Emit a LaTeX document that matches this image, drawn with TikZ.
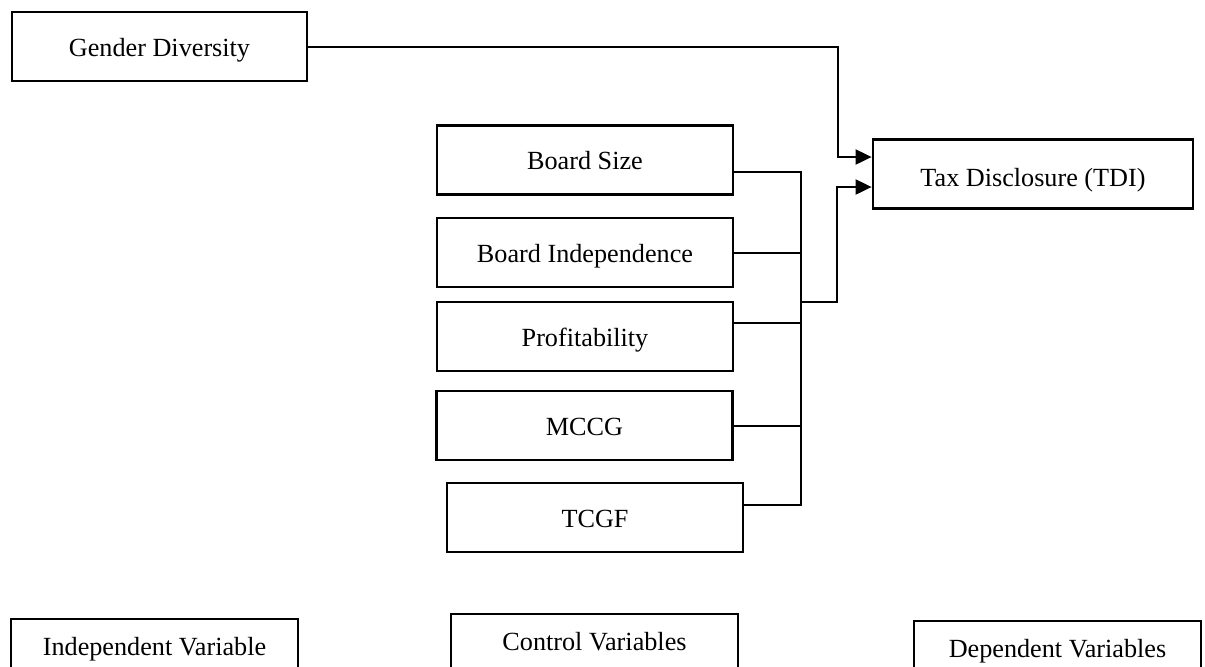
\documentclass[tikz,border=0pt]{standalone}
\usepackage{fontspec}
\setmainfont{Liberation Serif}
\usetikzlibrary{arrows.meta}
\tikzset{
  varbox/.style={draw, line width=1.4pt, inner sep=0pt, minimum width=148pt, minimum height=34.5pt, text height=9.5pt, text depth=0pt, font=\fontsize{13.1pt}{15pt}\selectfont},
  legbox/.style={draw, line width=1pt, inner sep=0pt, minimum width=143.5pt, minimum height=29pt, text height=7.5pt, text depth=0pt, font=\fontsize{13.1pt}{15pt}\selectfont},
  conn/.style={line width=1pt},
  arr/.style={line width=1pt, -{Triangle[length=8pt,width=7.5pt]}}
}
\begin{document}
\begin{tikzpicture}[x=0.5pt,y=-0.5pt]
\useasboundingbox (0,0) rectangle (1205,666);
\clip (0,0) rectangle (1205,666);
\fill[white] (0,0) rectangle (1205,666);
% main boxes
\node[varbox, minimum width=147.5pt] (gd) at (159.5,46.5) {Gender Diversity};
\node[varbox, minimum width=160pt, text height=12pt] (tdi) at (1033,174) {Tax Disclosure (TDI)};
\node[varbox] (bs) at (585,160) {Board Size};
\node[varbox] (bi) at (585,252.5) {Board Independence};
\node[varbox] (pr) at (585,336.5) {Profitability};
\node[varbox] (mc) at (584.5,425.5) {MCCG};
\node[varbox] (tc) at (595,517.5) {TCGF};
% legend boxes (cut by lower edge)
\node[legbox] (iv) at (154.5,648) {Independent Variable};
\node[legbox] (cv) at (594.5,643) {Control Variables};
\node[legbox] (dv) at (1057.5,650) {Dependent Variables};
% rail
\coordinate (rt) at (801,172);
\coordinate (rb) at (801,505);
\coordinate (prj) at (801,323);
\coordinate (j) at (801,302);
\coordinate (k1) at (838,0);
\coordinate (k2) at (837,0);
\draw[conn] (bs.east |- rt) -- (rt) -- (rb) -- (tc.east |- rb);
\draw[conn] (bi.east) -- (bi.east -| rt);
\draw[conn] (pr.east |- prj) -- (prj);
\draw[conn] (mc.east) -- (mc.east -| rt);
% arrows to TDI
\draw[arr] (gd.east) -- (gd.east -| k1) |- ([yshift=8.5pt]tdi.west);
\draw[arr] (j) -- (j -| k2) |- ([yshift=-6.5pt]tdi.west);
\end{tikzpicture}
\end{document}
